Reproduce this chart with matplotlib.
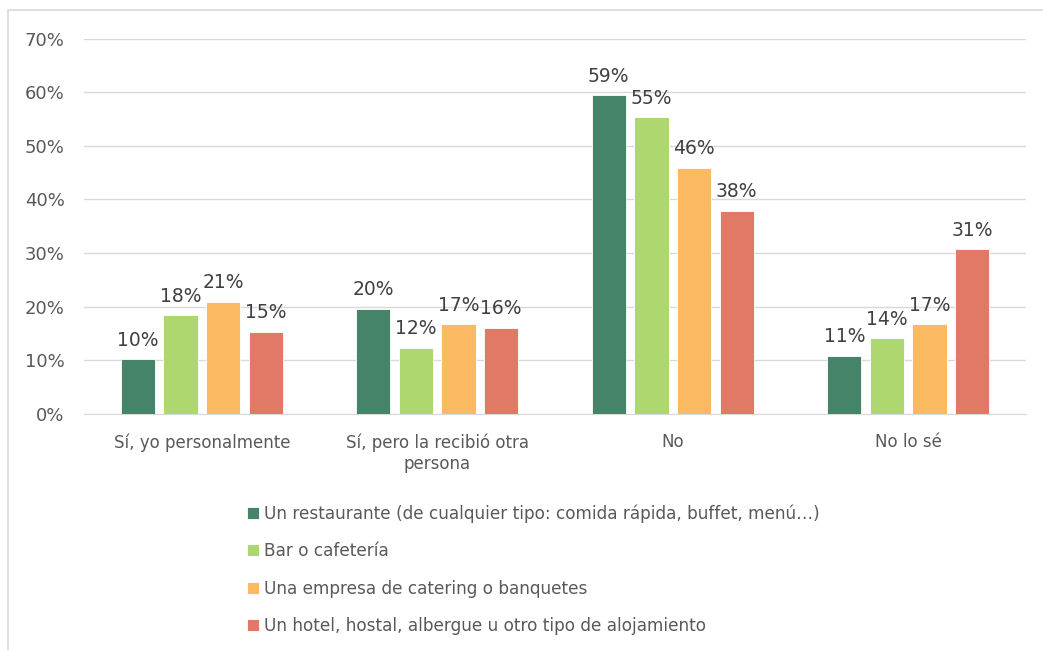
import matplotlib.pyplot as plt
import numpy as np
from matplotlib.patches import Rectangle
from matplotlib.ticker import PercentFormatter

plt.rcParams['font.family'] = ['DejaVu Sans']

categories = ['Sí, yo personalmente', 'Sí, pero la recibió otra\npersona', 'No', 'No lo sé']
series = [
    'Un restaurante (de cualquier tipo: comida rápida, buffet, menú…)',
    'Bar o cafetería',
    'Una empresa de catering o banquetes',
    'Un hotel, hostal, albergue u otro tipo de alojamiento',
]
restaurante = [10.2, 19.6, 59.4, 10.8]
bar = [18.4, 12.3, 55.3, 14.1]
catering = [20.9, 16.7, 45.9, 16.7]
hotel = [15.3, 16.1, 37.9, 30.7]
colors = ['#458468', '#AED86F', '#FBB962', '#E07A66']

values = [restaurante, bar, catering, hotel]

W, H = 1043, 650
fig = plt.figure(figsize=(W / 100, H / 100), dpi=100)
ax = fig.add_axes([84 / W, 1 - 414 / H, 942 / W, 375.5 / H])

x = np.arange(len(categories))
pitch = 0.181
width = 0.145
for i, (vals, c, name) in enumerate(zip(values, colors, series)):
    pos = x + (i - 1.5) * pitch
    ax.bar(pos, vals, width, color=c, edgecolor='white', linewidth=0.6, label=name, zorder=3)
    for xp, v in zip(pos, vals):
        ax.annotate(f'{round(v)}%', (xp, v), xytext=(0, 7), textcoords='offset points',
                    ha='center', va='bottom', fontsize=13.5, color='#404040')

ax.set_xlim(-0.5, 3.5)
ax.set_ylim(0, 70)
ax.set_yticks(np.arange(0, 71, 10))
ax.yaxis.set_major_formatter(PercentFormatter(decimals=0))
ax.set_xticks(x)
ax.set_xticklabels(categories)
ax.grid(axis='y', color='#D9D9D9', linewidth=1, zorder=0)
for s in ['top', 'right', 'left']:
    ax.spines[s].set_visible(False)
ax.spines['bottom'].set_color('#D9D9D9')
ax.tick_params(axis='both', length=0, labelsize=12, labelcolor='#595959')
ax.tick_params(axis='y', pad=14, labelsize=13)
ax.tick_params(axis='x', pad=14)

fig.legend(loc='upper left', bbox_to_anchor=(232 / W, 1 - 489 / H), frameon=False,
           handlelength=0.7, handleheight=0.7, handletextpad=0.3, labelspacing=1.15,
           fontsize=12.2, labelcolor='#595959')

fig.patches.append(Rectangle((8 / W, -0.1), 1.2, 1 - 10 / H + 0.1, transform=fig.transFigure,
                             fill=False, edgecolor='#D9D9D9', linewidth=1.2))

fig.savefig('out.png', dpi=100)
